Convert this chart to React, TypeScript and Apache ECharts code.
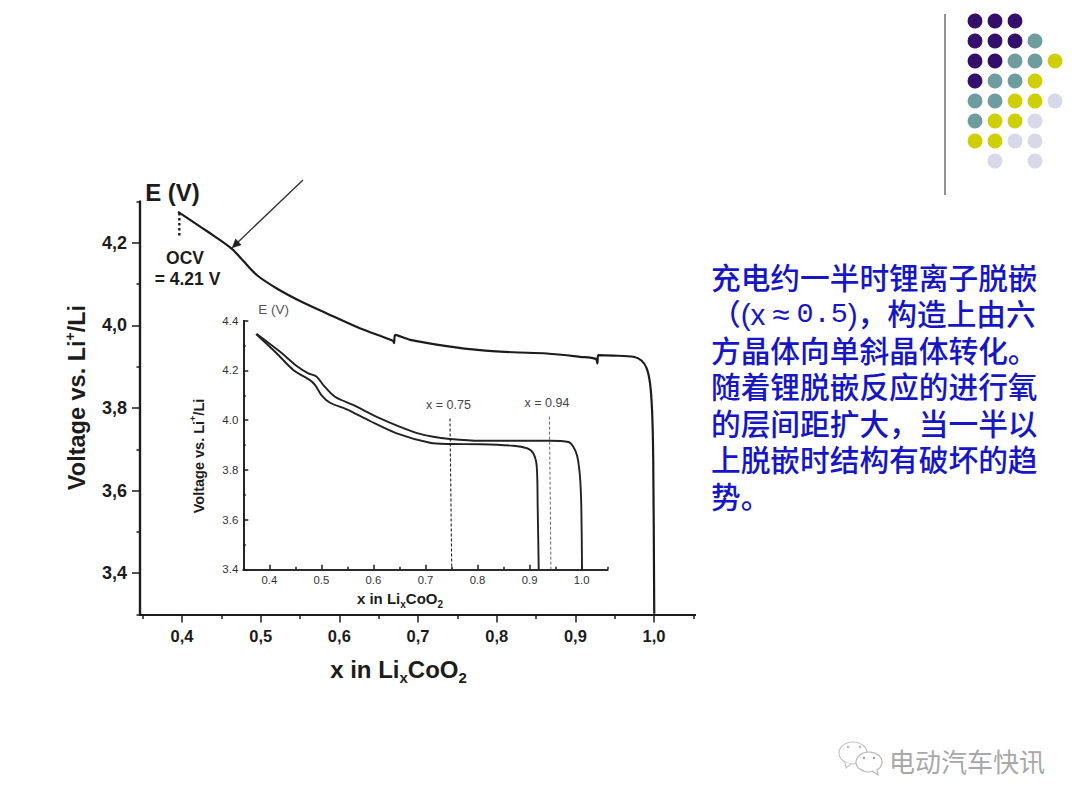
import React, { useEffect, useRef } from "react";
import * as echarts from "echarts";

const mainCurve: number[][] = [
  [0.395, 4.275], [0.4314, 4.2285], [0.463, 4.186], [0.478, 4.156], [0.495, 4.122], [0.52, 4.09],
  [0.55, 4.059], [0.584, 4.029], [0.626, 3.993], [0.668, 3.963], [0.6695, 3.957], [0.671, 3.977],
  [0.69, 3.965], [0.7365, 3.95], [0.779, 3.94], [0.821, 3.935], [0.8636, 3.932], [0.906, 3.924],
  [0.926, 3.919], [0.928, 3.908], [0.929, 3.928], [0.948, 3.927], [0.974, 3.924], [0.984, 3.915],
  [0.9907, 3.896], [0.9949, 3.86], [0.9975, 3.795], [0.999, 3.675], [1.0003, 3.302],
];
const ocvDots: number[][] = [[0.3966, 4.272], [0.3966, 4.216]];
const insetUpper: number[][] = [
  [0.3758, 4.3465], [0.4206, 4.275], [0.4526, 4.218], [0.475, 4.188], [0.491, 4.175], [0.5037, 4.141],
  [0.526, 4.094], [0.561, 4.061], [0.6127, 4.007], [0.6766, 3.953], [0.715, 3.933], [0.747, 3.924],
  [0.8047, 3.917], [0.8687, 3.917], [0.939, 3.917], [0.9745, 3.912], [0.984, 3.893], [0.9917, 3.853],
  [0.9968, 3.772], [0.9993, 3.652], [1.0007, 3.4],
];
const insetLower: number[][] = [
  [0.3745, 4.3465], [0.414, 4.269], [0.446, 4.202], [0.478, 4.161], [0.488, 4.141], [0.5, 4.101],
  [0.5166, 4.07], [0.5487, 4.0437], [0.5935, 3.9965], [0.6447, 3.947], [0.7087, 3.909], [0.747, 3.904],
  [0.8047, 3.903], [0.8687, 3.897], [0.8944, 3.887], [0.907, 3.867], [0.9137, 3.813], [0.9155, 3.652],
  [0.9175, 3.4],
];
const markerA: number[][] = [[0.747, 4.007], [0.7504, 3.4]];
const markerB: number[][] = [[0.938, 4.014], [0.941, 3.4]];

const mainXMajor = [0.4, 0.5, 0.6, 0.7, 0.8, 0.9, 1.0];
const mainXMinor = [0.35, 0.45, 0.55, 0.65, 0.75, 0.85, 0.95, 1.05];
const mainYMajor = [3.4, 3.6, 3.8, 4.0, 4.2];
const mainYMinor = [3.3, 3.5, 3.7, 3.9, 4.1, 4.3];
const insetXMajor = [0.4, 0.5, 0.6, 0.7, 0.8, 0.9, 1.0];
const insetXMinor = [0.45, 0.55, 0.65, 0.75, 0.85, 0.95, 1.05];
const insetYMajor = [3.4, 3.6, 3.8, 4.0, 4.2, 4.4];
const insetYMinor = [3.5, 3.7, 3.9, 4.1, 4.3];

const noteText = [
  "{c|充电约一半时锂离子脱嵌}",
  "{c|（(x}{e|≈}{m|0.5}{c|)，构造上由六}",
  "{c|方晶体向单斜晶体转化。}",
  "{c|随着锂脱嵌反应的进行氧}",
  "{c|的层间距扩大，当一半以}",
  "{c|上脱嵌时结构有破坏的趋}",
  "{c|势。}",
].join("\n");
const dotRows = ["PPP", "PPPT", "PPTTY", "PTTY", "TTYYL", "TYYL", "YYLL", " L L"];
const dotColors: Record<string, string> = { P: "#330f6b", T: "#6f9c9f", Y: "#cfcf05", L: "#d8d8e8" };

const LATIN = '"Liberation Sans", Arial, sans-serif';
const NOTE_FONT = '"Liberation Sans", "Noto Sans CJK SC"';
const INK = "#1c1c1c";

function comma(v: number) { return v.toFixed(1).replace(".", ","); }
function dot(v: number) { return v.toFixed(1); }

function minorAxis(kind: "x" | "y", grid: number, min: number, max: number, vals: number[], pos: string, len: number, inside: boolean, width: number) {
  return {
    type: "value", gridIndex: grid, min, max, position: pos, splitLine: { show: false },
    axisLine: { show: true, lineStyle: { color: INK, width } },
    axisTick: { show: true, customValues: vals, length: len, inside, lineStyle: { color: INK, width: Math.min(width, 1.5) } },
    axisLabel: { show: false },
  };
}

function majorAxis(grid: number, min: number, max: number, vals: number[], pos: string, len: number, inside: boolean, width: number, fmt: (v: number) => string, labelStyle: any, name: any, nameExtra: any) {
  return {
    type: "value", gridIndex: grid, min, max, position: pos, splitLine: { show: false },
    axisLine: { show: true, lineStyle: { color: INK, width } },
    axisTick: { show: true, customValues: vals, length: len, inside, lineStyle: { color: INK, width: Math.min(width, 1.5) } },
    axisLabel: { show: true, customValues: vals, formatter: fmt, fontFamily: LATIN, ...labelStyle },
    name, nameLocation: "middle", ...nameExtra,
  };
}

function xName(size: number, sub: number, padding: number[]) {
  return {
    padding, fontFamily: LATIN, fontWeight: "bold", color: INK,
    rich: {
      a: { fontFamily: LATIN, fontWeight: "bold", fontSize: size, color: INK, lineHeight: size + 6, verticalAlign: "middle" },
      s: { fontFamily: LATIN, fontWeight: "bold", fontSize: sub, color: INK, lineHeight: size + 6, verticalAlign: "bottom" },
    },
  };
}
function yName(size: number, sup: number, padding: number[]) {
  return {
    padding, fontFamily: LATIN, fontWeight: "bold", color: INK,
    rich: {
      a: { fontFamily: LATIN, fontWeight: "bold", fontSize: size, color: INK, lineHeight: size + 6, verticalAlign: "middle" },
      s: { fontFamily: LATIN, fontWeight: "bold", fontSize: sup, color: INK, lineHeight: size + 6, verticalAlign: "top" },
    },
  };
}

function text(t: string, x: number, y: number, size: number, opts: any = {}) {
  return {
    type: "text", x, y, silent: true,
    style: { text: t, fontSize: size, fontFamily: LATIN, fill: INK, align: "center", verticalAlign: "middle", ...opts },
  };
}

export default function App() {
  const ref = useRef<HTMLDivElement>(null);
  useEffect(() => {
    document.body.style.margin = "0";
    const chart = echarts.init(ref.current!, undefined, { renderer: "svg" });

    const dots: any[] = [];
    dotRows.forEach((row, r) => {
      row.split("").forEach((c, i) => {
        if (c === " ") return;
        dots.push({ type: "circle", silent: true, shape: { cx: 975 + i * 20, cy: 21 + r * 20, r: 7.4 }, style: { fill: dotColors[c] } });
      });
    });

    const note = {
      type: "text", x: 711, y: 259.75, silent: true,
      style: {
        text: noteText, fontSize: 29.7, lineHeight: 36.5, fontFamily: NOTE_FONT, fontWeight: 500, fill: "#1616c4",
        align: "left", verticalAlign: "top",
        rich: {
          c: { fontSize: 29.7, lineHeight: 36.5, fontFamily: NOTE_FONT, fontWeight: 500, fill: "#1616c4" },
          e: { fontSize: 31, lineHeight: 36.5, fontFamily: NOTE_FONT, fontWeight: 500, fill: "#1616c4", padding: [0, 7, 0, 7] },
          m: { fontSize: 28.5, lineHeight: 36.5, fontFamily: '"Liberation Mono"', fontWeight: 500, fill: "#1616c4" },
        },
      },
    };

    const curve = { showSymbol: false, silent: true, smooth: 0.3 };

    chart.setOption({
      animation: false,
      backgroundColor: "#ffffff",
      grid: [
        { left: 140, top: 201.5, width: 555, height: 413 },
        { left: 243.3, top: 320.7, width: 364.4, height: 248.6 },
      ],
      xAxis: [
        minorAxis("x", 0, 0.3466, 1.0521, mainXMinor, "bottom", 4.5, false, 2.2),
        majorAxis(0, 0.3466, 1.0521, mainXMajor, "bottom", 8, false, 2.2, comma,
          { fontSize: 16.5, fontWeight: "bold", color: INK, margin: 13 },
          "{a|x in Li}{s|x}{a|CoO}{s|2}",
          { nameGap: 40, nameTextStyle: xName(24, 15, [0, 38, 0, 0]) }),
        minorAxis("x", 1, 0.35, 1.05, insetXMinor, "bottom", 2.5, true, 1.6),
        majorAxis(1, 0.35, 1.05, insetXMajor, "bottom", 4.5, true, 1.6, dot,
          { fontSize: 11.3, color: "#333333", margin: 5 },
          "{a|x in Li}{s|x}{a|CoO}{s|2}",
          { nameGap: 19, nameTextStyle: xName(15, 10, [0, 51, 0, 0]) }),
      ],
      yAxis: [
        minorAxis("y", 0, 3.3, 4.3, mainYMinor, "left", 3.5, false, 2.2),
        majorAxis(0, 3.3, 4.3, mainYMajor, "left", 8, false, 2.2, comma,
          { fontSize: 18, fontWeight: "bold", color: INK, margin: 13 },
          "{a|Voltage vs. Li}{s|+}{a|/Li}",
          { nameGap: 48, nameRotate: 90, nameTextStyle: yName(23.5, 14, [0, 0, 0, 21]) }),
        minorAxis("y", 1, 3.4, 4.4, insetYMinor, "left", 2.5, true, 1.6),
        majorAxis(1, 3.4, 4.4, insetYMajor, "left", 5, true, 1.6, dot,
          { fontSize: 11.5, color: "#333333", margin: 5 },
          "{a|Voltage vs. Li}{s|+}{a|/Li}",
          { nameGap: 34, nameRotate: 90, nameTextStyle: yName(14.5, 9, [0, 22, 0, 0]) }),
      ],
      series: [
        { type: "line", name: "main", xAxisIndex: 1, yAxisIndex: 1, data: mainCurve, ...curve, lineStyle: { color: INK, width: 2.2 } },
        { type: "line", name: "ocv", xAxisIndex: 1, yAxisIndex: 1, data: ocvDots, showSymbol: false, lineStyle: { color: INK, width: 2.4, type: [2.5, 2.5] }, silent: true },
        { type: "line", name: "inset upper", xAxisIndex: 3, yAxisIndex: 3, data: insetUpper, ...curve, lineStyle: { color: "#222222", width: 1.9 } },
        { type: "line", name: "inset lower", xAxisIndex: 3, yAxisIndex: 3, data: insetLower, ...curve, lineStyle: { color: "#222222", width: 1.9 } },
        { type: "line", name: "x 0.75", xAxisIndex: 3, yAxisIndex: 3, data: markerA, showSymbol: false, lineStyle: { color: "#222222", width: 1.1, type: [3, 2] }, silent: true },
        { type: "line", name: "x 0.94", xAxisIndex: 3, yAxisIndex: 3, data: markerB, showSymbol: false, lineStyle: { color: "#666666", width: 1, type: [3, 2] }, silent: true },
      ],
      graphic: { elements: [
        text("E (V)", 172.5, 192, 24, { fontWeight: "bold" }),
        text("OCV", 185, 258, 17.5, { fontWeight: "bold" }),
        text("= 4.21 V", 187.5, 279, 17.5, { fontWeight: "bold" }),
        text("E (V)", 273.5, 309, 13.5, { fill: "#555555" }),
        text("x = 0.75", 448.5, 405, 12.5, { fill: "#444444" }),
        text("x = 0.94", 547, 403, 12.5, { fill: "#444444" }),
        { type: "line", silent: true, shape: { x1: 303, y1: 180, x2: 236, y2: 244 }, style: { stroke: "#333333", lineWidth: 1.4 } },
        { type: "polygon", silent: true, shape: { points: [[231.7, 248.3], [235.5, 238.5], [241.5, 245]] }, style: { fill: "#222222" } },
        { type: "line", silent: true, shape: { x1: 945, y1: 14, x2: 945, y2: 195 }, style: { stroke: "#666666", lineWidth: 1.4 } },
        ...dots,
        note,
        { type: "ellipse", silent: true, shape: { cx: 853, cy: 753, rx: 14, ry: 11 }, style: { fill: "#ffffff", stroke: "#c4c4c4", lineWidth: 1.2 } },
        { type: "polyline", silent: true, shape: { points: [[845, 762], [846, 768], [851, 764]] }, style: { fill: "#ffffff", stroke: "#c4c4c4", lineWidth: 1.2 } },
        { type: "ellipse", silent: true, shape: { cx: 869, cy: 762, rx: 13, ry: 10 }, style: { fill: "#ffffff", stroke: "#b8b8b8", lineWidth: 1.2 } },
        { type: "polyline", silent: true, shape: { points: [[872, 771], [878, 775], [877, 769]] }, style: { fill: "#ffffff", stroke: "#b8b8b8", lineWidth: 1.2 } },
        { type: "circle", silent: true, shape: { cx: 848, cy: 747, r: 1.3 }, style: { fill: "#bbbbbb" } },
        { type: "circle", silent: true, shape: { cx: 860, cy: 747, r: 1.3 }, style: { fill: "#bbbbbb" } },
        { type: "circle", silent: true, shape: { cx: 864, cy: 758, r: 1.3 }, style: { fill: "#aaaaaa" } },
        { type: "circle", silent: true, shape: { cx: 874, cy: 758, r: 1.3 }, style: { fill: "#aaaaaa" } },
        { type: "text", x: 889, y: 760, silent: true, style: { text: "电动汽车快讯", fontSize: 26, fontFamily: '"Noto Sans CJK SC"', fill: "#a8a8a8", align: "left", verticalAlign: "middle" } },
      ] },
    });
    return () => chart.dispose();
  }, []);
  return <div ref={ref} style={{ position: "fixed", left: 0, top: 0, width: 1080, height: 806, background: "#fff" }} />;
}
